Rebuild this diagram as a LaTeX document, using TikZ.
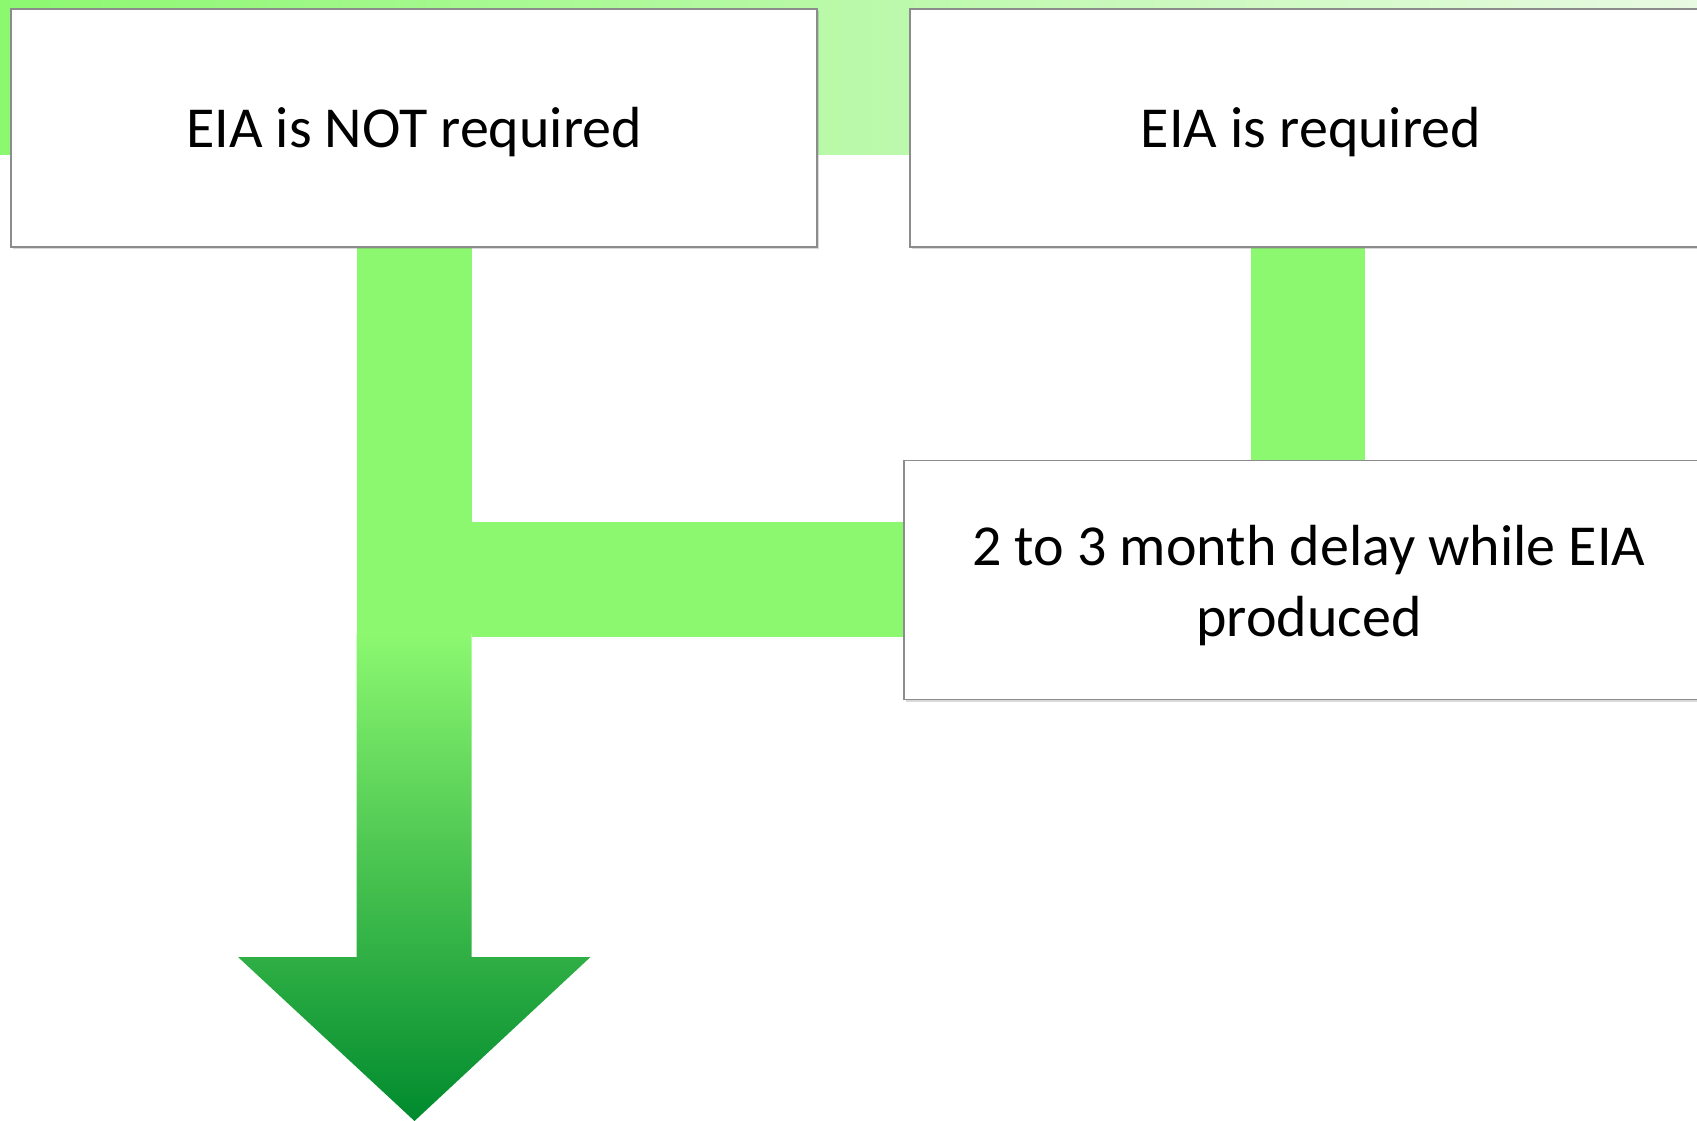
\documentclass[tikz,border=0pt]{standalone}
\usepackage{fontspec}
\setmainfont{Carlito}
\usetikzlibrary{shadows}
\definecolor{barg}{HTML}{8CF870}
\definecolor{darkg}{HTML}{008A2E}
\definecolor{bandl}{HTML}{8CF870}
\definecolor{bandm}{HTML}{C4F9B8}
\definecolor{bandr}{HTML}{E8FAE2}
\definecolor{boxline}{HTML}{8C8C8C}
\pgfdeclarelayer{bg}
\pgfsetlayers{bg,main}
\begin{document}
\begin{tikzpicture}[x=1pt,y=-1pt,
  box/.style={draw=boxline, line width=1.5pt, fill=white,
    inner sep=0pt, outer sep=0pt,
    drop shadow={opacity=0.3, shadow xshift=1.5pt, shadow yshift=-2pt}},
  txt/.style={anchor=base, inner sep=0pt, font=\fontsize{58}{70}\selectfont},
  bar/.style={fill=barg}]
\useasboundingbox (0,0) rectangle (1697,1121);
\clip (0,0) rectangle (1697,1121);

\node[box, minimum width=806pt, minimum height=238pt] (notreq) at (414,128) {};
\node[box, minimum width=802pt, minimum height=238pt] (req) at (1311,128) {};
\node[box, minimum width=810pt, minimum height=239pt] (delay) at (1309,580) {};

\node[txt] (t1) at ([yshift=-20pt]notreq.center) {EIA is NOT required};
\node[txt] (t2) at ([yshift=-20pt]req.center) {EIA is required};
\node[txt] (t3a) at ([yshift=15pt]delay.center) {2 to 3 month delay while EIA};
\node[txt] (t3b) at ([yshift=-56pt]delay.center) {produced};

\coordinate (jn) at (414.5,634);
\coordinate (hb) at (0,522);
\coordinate (hb2) at (0,637);
\coordinate (ah) at (0,957);
\coordinate (tip) at (414.5,1121);

\begin{pgfonlayer}{bg}
  \shade[left color=bandl, middle color=bandm, right color=bandr] (0,-5) rectangle (1697,155);
  \path (notreq.south) ++(-57.5,0) coordinate (l1) ++(115,0) coordinate (l2);
  \path (req.south) ++(-60,0) coordinate (r1) ++(114,0) coordinate (r2);
  \fill[bar] (l1) rectangle (l2 |- jn);
  \fill[bar] (l2 |- hb) rectangle (delay.west |- hb2);
  \fill[bar] (r1) rectangle (r2 |- delay.north);
  \shade[top color=barg, bottom color=darkg]
    (l1 |- jn) -- (l2 |- jn) -- (l2 |- ah) -- ++(119,0) -- (tip)
    -- ++(-176.5,-164) -- (l1 |- ah) -- cycle;
\end{pgfonlayer}
\end{tikzpicture}
\end{document}
